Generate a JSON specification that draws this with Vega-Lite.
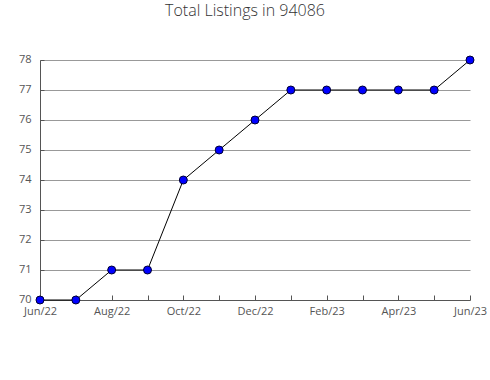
{
  "$schema": "https://vega.github.io/schema/vega-lite/v6.json",
  "autosize": {"type": "none"},
  "width": 430,
  "height": 240,
  "padding": {"left": 40, "top": 60, "right": 20, "bottom": 80},
  "background": "white",
  "title": {
    "text": "Total Listings in 94086",
    "font": "Open Sans",
    "fontSize": 16,
    "fontWeight": 300,
    "color": "#333333",
    "anchor": "middle",
    "dx": -10,
    "offset": 34
  },
  "config": {"view": {"stroke": null}},
  "data": {
    "values": [
      {"month": "Jun/22", "listings": 70},
      {"month": "Jul/22", "listings": 70},
      {"month": "Aug/22", "listings": 71},
      {"month": "Sep/22", "listings": 71},
      {"month": "Oct/22", "listings": 74},
      {"month": "Nov/22", "listings": 75},
      {"month": "Dec/22", "listings": 76},
      {"month": "Jan/23", "listings": 77},
      {"month": "Feb/23", "listings": 77},
      {"month": "Mar/23", "listings": 77},
      {"month": "Apr/23", "listings": 77},
      {"month": "May/23", "listings": 77},
      {"month": "Jun/23", "listings": 78}
    ]
  },
  "encoding": {
    "x": {
      "field": "month",
      "type": "ordinal",
      "sort": null,
      "scale": {"type": "point", "padding": 0},
      "axis": {
        "title": null,
        "labelAngle": 0,
        "labelFont": "Open Sans",
        "labelFontSize": 11,
        "labelColor": "#555555",
        "labelExpr": "indexof(['Jun/22','Aug/22','Oct/22','Dec/22','Feb/23','Apr/23','Jun/23'], datum.value) >= 0 ? datum.value : ''",
        "domainColor": "#555555",
        "tickColor": "#555555",
        "tickSize": -5,
        "labelPadding": 10,
        "grid": false
      }
    },
    "y": {
      "field": "listings",
      "type": "quantitative",
      "scale": {"domain": [70, 78], "zero": false, "nice": false},
      "axis": {
        "title": null,
        "values": [70, 70.5, 71, 71.5, 72, 72.5, 73, 73.5, 74, 74.5, 75, 75.5, 76, 76.5, 77, 77.5, 78],
        "format": "d",
        "labelExpr": "datum.value % 1 == 0 ? format(datum.value, 'd') : ''",
        "labelFont": "Open Sans",
        "labelFontSize": 11,
        "labelColor": "#555555",
        "labelPadding": 13,
        "labelOffset": -1,
        "domainColor": "#555555",
        "tickColor": "#555555",
        "tickSize": -4,
        "grid": true,
        "gridColor": "#999999",
        "gridOpacity": {"condition": {"test": "datum.value % 1 == 0 && datum.value > 70", "value": 1}, "value": 0}
      }
    }
  },
  "layer": [
    {"mark": {"type": "line", "color": "black", "strokeWidth": 1}},
    {"mark": {"type": "point", "filled": true, "fill": "#0000ff", "stroke": "#000033", "strokeWidth": 1, "size": 64, "opacity": 1}}
  ]
}
